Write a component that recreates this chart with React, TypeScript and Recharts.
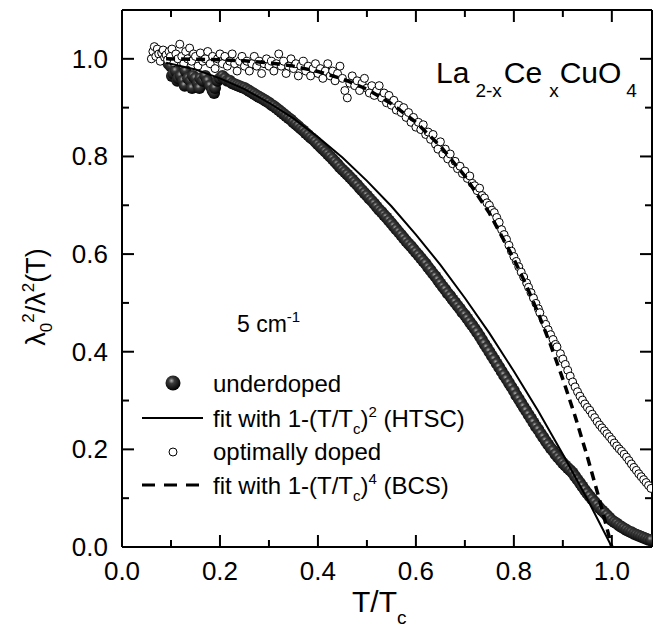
import { ComposedChart, Scatter, XAxis, YAxis, Customized } from "recharts";

const FONT = "'Liberation Sans', Arial, sans-serif";

const xTicks = [0, 0.1, 0.2, 0.3, 0.4, 0.5, 0.6, 0.7, 0.8, 0.9, 1.0];
const yTicks = [0, 0.1, 0.2, 0.3, 0.4, 0.5, 0.6, 0.7, 0.8, 0.9, 1.0];

// underdoped, filled spheres  [T/Tc, lambda0^2/lambda^2]
const underdoped: [number, number][] = [
  [0.09, 1.0], [0.095, 0.99], [0.1, 0.985], [0.102, 0.965], [0.105, 0.97], [0.11, 0.975],
  [0.113, 0.955], [0.115, 0.96], [0.12, 0.965], [0.125, 0.955], [0.128, 0.945], [0.13, 0.975],
  [0.135, 0.96], [0.14, 0.955], [0.143, 0.94], [0.145, 0.965], [0.15, 0.96], [0.155, 0.95],
  [0.158, 0.94], [0.16, 0.96], [0.165, 0.955], [0.17, 0.965], [0.175, 0.955], [0.18, 0.945],
  [0.185, 0.935], [0.188, 0.93], [0.19, 0.94], [0.195, 0.955], [0.2, 0.96], [0.205, 0.965],
  [0.21, 0.96], [0.215, 0.955], [0.22, 0.955], [0.225, 0.95],
  [0.23, 0.948], [0.235, 0.946], [0.24, 0.944], [0.245, 0.942], [0.25, 0.94], [0.255, 0.937],
  [0.26, 0.934], [0.265, 0.931], [0.27, 0.928], [0.275, 0.925], [0.28, 0.922], [0.285, 0.919],
  [0.29, 0.916], [0.295, 0.913], [0.3, 0.91], [0.305, 0.906], [0.31, 0.903], [0.315, 0.899],
  [0.32, 0.895], [0.325, 0.891], [0.33, 0.887], [0.335, 0.883], [0.34, 0.879], [0.345, 0.875],
  [0.35, 0.87], [0.355, 0.866], [0.36, 0.862], [0.365, 0.857], [0.37, 0.853], [0.375, 0.848],
  [0.38, 0.844], [0.385, 0.839], [0.39, 0.835], [0.395, 0.83], [0.4, 0.825], [0.405, 0.82],
  [0.41, 0.815], [0.415, 0.81], [0.42, 0.805], [0.425, 0.8], [0.43, 0.795], [0.435, 0.789],
  [0.44, 0.784], [0.445, 0.778], [0.45, 0.773], [0.455, 0.768], [0.46, 0.763], [0.465, 0.758],
  [0.47, 0.753], [0.475, 0.747], [0.48, 0.742], [0.485, 0.736], [0.49, 0.731], [0.495, 0.725],
  [0.5, 0.72], [0.505, 0.714], [0.51, 0.709], [0.515, 0.703], [0.52, 0.697], [0.525, 0.691],
  [0.53, 0.686], [0.535, 0.68], [0.54, 0.675], [0.545, 0.669], [0.55, 0.663], [0.555, 0.657],
  [0.56, 0.651], [0.565, 0.645], [0.57, 0.639], [0.575, 0.633], [0.58, 0.627], [0.585, 0.621],
  [0.59, 0.616], [0.595, 0.61], [0.6, 0.604], [0.605, 0.598], [0.61, 0.592], [0.615, 0.586],
  [0.62, 0.58], [0.625, 0.573], [0.63, 0.567], [0.635, 0.56], [0.64, 0.554], [0.645, 0.547],
  [0.65, 0.54], [0.655, 0.533], [0.66, 0.527], [0.665, 0.52], [0.67, 0.514], [0.675, 0.507],
  [0.68, 0.501], [0.685, 0.494], [0.69, 0.488], [0.695, 0.481], [0.7, 0.475], [0.705, 0.468],
  [0.71, 0.461], [0.715, 0.454], [0.72, 0.447], [0.725, 0.44], [0.73, 0.432], [0.735, 0.424],
  [0.74, 0.416], [0.745, 0.408], [0.75, 0.4], [0.755, 0.392], [0.76, 0.384], [0.765, 0.376],
  [0.77, 0.368], [0.775, 0.36], [0.78, 0.352], [0.785, 0.344], [0.79, 0.336], [0.795, 0.328],
  [0.8, 0.32], [0.805, 0.311], [0.81, 0.303], [0.815, 0.295], [0.82, 0.287], [0.825, 0.279],
  [0.83, 0.271], [0.835, 0.263], [0.84, 0.255], [0.845, 0.247], [0.85, 0.24], [0.855, 0.232],
  [0.86, 0.225], [0.865, 0.217], [0.87, 0.21], [0.875, 0.203], [0.88, 0.197], [0.885, 0.19],
  [0.89, 0.184], [0.895, 0.178], [0.9, 0.172], [0.905, 0.167], [0.91, 0.162], [0.915, 0.157],
  [0.92, 0.152], [0.925, 0.145], [0.93, 0.138], [0.935, 0.131], [0.94, 0.124], [0.945, 0.117],
  [0.95, 0.11], [0.955, 0.104], [0.96, 0.098], [0.965, 0.092], [0.97, 0.086], [0.975, 0.08],
  [0.98, 0.075], [0.985, 0.07], [0.99, 0.065], [0.995, 0.06], [1.0, 0.055], [1.005, 0.051],
  [1.01, 0.048], [1.015, 0.044], [1.02, 0.041], [1.025, 0.038], [1.03, 0.035], [1.035, 0.032],
  [1.04, 0.03], [1.045, 0.027], [1.05, 0.025], [1.055, 0.023], [1.06, 0.021], [1.065, 0.019],
  [1.07, 0.017], [1.075, 0.015], [1.08, 0.014],
];

// optimally doped, open circles
const optimallyDoped: [number, number][] = [
  [0.06, 1.0], [0.063, 1.015], [0.066, 1.025], [0.069, 1.005], [0.072, 1.02], [0.075, 1.01],
  [0.078, 0.995], [0.081, 1.012], [0.084, 1.018], [0.087, 1.003], [0.09, 1.008], [0.093, 0.998],
  [0.096, 1.015], [0.099, 1.005], [0.102, 1.02], [0.106, 0.992], [0.11, 1.01], [0.114, 1.0],
  [0.118, 1.03], [0.122, 1.005], [0.126, 0.99], [0.13, 1.015], [0.134, 1.0], [0.138, 1.022],
  [0.142, 0.995], [0.146, 1.01], [0.15, 1.005], [0.155, 0.985], [0.16, 1.012], [0.165, 0.995],
  [0.17, 1.0], [0.175, 1.015], [0.18, 0.99], [0.185, 1.005], [0.19, 0.98], [0.195, 1.0],
  [0.2, 1.01], [0.205, 0.99], [0.21, 1.005], [0.215, 0.985], [0.22, 0.995], [0.225, 1.01],
  [0.23, 0.99], [0.235, 0.975], [0.24, 0.995], [0.245, 1.005], [0.25, 0.985], [0.255, 0.995],
  [0.26, 0.975], [0.265, 0.99], [0.27, 1.005], [0.275, 0.985], [0.28, 0.995], [0.285, 0.97],
  [0.29, 0.99], [0.295, 1.0], [0.3, 0.985], [0.305, 0.995], [0.31, 0.975], [0.315, 0.99],
  [0.32, 1.01], [0.325, 0.985], [0.33, 0.995], [0.335, 0.97], [0.34, 0.985], [0.345, 1.0],
  [0.35, 0.98], [0.355, 0.99], [0.36, 0.965], [0.365, 0.985], [0.37, 0.995], [0.375, 0.975],
  [0.38, 0.985], [0.385, 0.965], [0.39, 0.98], [0.395, 0.99], [0.4, 0.97], [0.405, 0.98],
  [0.41, 0.96], [0.415, 0.975], [0.42, 0.99], [0.425, 0.965], [0.43, 0.975], [0.435, 0.955],
  [0.44, 0.97], [0.445, 0.985], [0.45, 0.96], [0.455, 0.935], [0.46, 0.92], [0.465, 0.95],
  [0.47, 0.965], [0.475, 0.945], [0.48, 0.955], [0.485, 0.935], [0.49, 0.95], [0.495, 0.96],
  [0.5, 0.94], [0.505, 0.93], [0.51, 0.945], [0.515, 0.925], [0.52, 0.935], [0.525, 0.945],
  [0.53, 0.92], [0.535, 0.93], [0.54, 0.91], [0.545, 0.925], [0.55, 0.905], [0.555, 0.915],
  [0.56, 0.895], [0.565, 0.905], [0.57, 0.89], [0.575, 0.9], [0.58, 0.88], [0.585, 0.89],
  [0.59, 0.87], [0.595, 0.88], [0.6, 0.86], [0.605, 0.87], [0.61, 0.855], [0.615, 0.865],
  [0.62, 0.845], [0.625, 0.85], [0.63, 0.835], [0.635, 0.845], [0.64, 0.825], [0.645, 0.815],
  [0.65, 0.83], [0.655, 0.805], [0.66, 0.815], [0.665, 0.795], [0.67, 0.805], [0.675, 0.785],
  [0.68, 0.79], [0.685, 0.775], [0.69, 0.78], [0.695, 0.765], [0.7, 0.77], [0.705, 0.755],
  [0.71, 0.76], [0.715, 0.745], [0.72, 0.74], [0.725, 0.73], [0.73, 0.735], [0.735, 0.72],
  [0.74, 0.715], [0.745, 0.705], [0.75, 0.7], [0.755, 0.69], [0.76, 0.685], [0.765, 0.675],
  [0.77, 0.665], [0.775, 0.65], [0.78, 0.64], [0.785, 0.63], [0.79, 0.618], [0.795, 0.606],
  [0.8, 0.595], [0.805, 0.585], [0.81, 0.574], [0.815, 0.563], [0.82, 0.553], [0.826, 0.541],
  [0.83, 0.532], [0.835, 0.521], [0.84, 0.51], [0.845, 0.499], [0.85, 0.488], [0.853, 0.48],
  [0.86, 0.466], [0.865, 0.456], [0.87, 0.445], [0.875, 0.435], [0.88, 0.425], [0.885, 0.415],
  [0.888, 0.41], [0.895, 0.396], [0.9, 0.385], [0.905, 0.374], [0.91, 0.362], [0.915, 0.35],
  [0.92, 0.338], [0.925, 0.328], [0.93, 0.318], [0.935, 0.309], [0.94, 0.301], [0.945, 0.293],
  [0.95, 0.286], [0.955, 0.28], [0.96, 0.272], [0.965, 0.265], [0.97, 0.257], [0.975, 0.25],
  [0.98, 0.244], [0.985, 0.238], [0.99, 0.232], [0.995, 0.226], [1.0, 0.22], [1.005, 0.213],
  [1.01, 0.207], [1.015, 0.201], [1.02, 0.196], [1.025, 0.19], [1.03, 0.184], [1.035, 0.177],
  [1.04, 0.17], [1.045, 0.163], [1.05, 0.157], [1.055, 0.15], [1.06, 0.144], [1.065, 0.138],
  [1.07, 0.132], [1.075, 0.126], [1.08, 0.12],
];

// fit 1-(T/Tc)^2 (HTSC), solid
const fitHTSC: [number, number][] = [
  [0.09, 0.992], [0.15, 0.978], [0.2, 0.96], [0.25, 0.938], [0.3, 0.91], [0.35, 0.878],
  [0.4, 0.84], [0.45, 0.798], [0.5, 0.75], [0.55, 0.698], [0.6, 0.64], [0.65, 0.578],
  [0.7, 0.51], [0.75, 0.438], [0.8, 0.36], [0.85, 0.278], [0.875, 0.234], [0.9, 0.19],
  [0.925, 0.144], [0.95, 0.098], [0.975, 0.049], [1.0, 0.0],
];

// fit 1-(T/Tc)^4 (BCS), dashed
const fitBCS: [number, number][] = [
  [0.09, 1.0], [0.15, 0.999], [0.2, 0.998], [0.25, 0.996], [0.3, 0.992], [0.35, 0.985],
  [0.4, 0.974], [0.45, 0.959], [0.5, 0.938], [0.55, 0.908], [0.6, 0.87], [0.65, 0.821],
  [0.7, 0.76], [0.75, 0.684], [0.8, 0.59], [0.825, 0.537], [0.85, 0.478], [0.875, 0.414],
  [0.9, 0.344], [0.925, 0.268], [0.95, 0.185], [0.975, 0.096], [1.0, 0.0],
];

const toRows = (pts: [number, number][]) => pts.map(([t, v]) => ({ t, v }));

const isMajor = (v: number) => Math.round(v * 10) % 2 === 0;

function BottomTick({ x, y, payload }: any) {
  const v = payload.value;
  const major = isMajor(v);
  return (
    <g>
      <line x1={x} x2={x} y1={y} y2={y - (major ? 12 : 7)} stroke="#000" strokeWidth={2} />
      {major && (
        <text x={x} y={y + 33} textAnchor="middle" fontSize={26} fontFamily={FONT} fill="#000">
          {v.toFixed(1)}
        </text>
      )}
    </g>
  );
}

function TopTick({ x, y, payload }: any) {
  const major = isMajor(payload.value);
  return <line x1={x} x2={x} y1={y} y2={y + (major ? 12 : 7)} stroke="#000" strokeWidth={2} />;
}

function LeftTick({ x, y, payload }: any) {
  const v = payload.value;
  const major = isMajor(v);
  return (
    <g>
      <line x1={x} x2={x + (major ? 12 : 7)} y1={y} y2={y} stroke="#000" strokeWidth={2} />
      {major && (
        <text x={x - 14} y={y + 9} textAnchor="end" fontSize={26} fontFamily={FONT} fill="#000">
          {v.toFixed(1)}
        </text>
      )}
    </g>
  );
}

function RightTick({ x, y, payload }: any) {
  const major = isMajor(payload.value);
  return <line x1={x} x2={x - (major ? 12 : 7)} y1={y} y2={y} stroke="#000" strokeWidth={2} />;
}

function Annotations() {
  return (
    <g fontFamily={FONT} fill="#000">
      {/* compound label */}
      <text x={436} y={83} fontSize={30}>
        La
        <tspan fontSize={19} dx={6} dy={14}>2-x</tspan>
        <tspan dx={2} dy={-14}>Ce</tspan>
        <tspan fontSize={19} dx={7} dy={14}>x</tspan>
        <tspan dx={1} dy={-14}>CuO</tspan>
        <tspan fontSize={19} dx={5} dy={14}>4</tspan>
      </text>

      <text x={237} y={332} fontSize={23}>
        5 cm
        <tspan fontSize={15} dy={-10}>-1</tspan>
      </text>

      {/* legend */}
      <circle cx={173} cy={383} r={7.5} fill="url(#sphere)" />
      <text x={213} y={392} fontSize={24}>underdoped</text>

      <line x1={142} x2={203} y1={418} y2={418} stroke="#000" strokeWidth={2} />
      <text x={213} y={427} fontSize={24}>
        fit with 1-(T/T
        <tspan fontSize={15} dy={7}>c</tspan>
        <tspan dy={-7}>)</tspan>
        <tspan fontSize={15} dy={-10}>2</tspan>
        <tspan dy={10}> (HTSC)</tspan>
      </text>

      <circle cx={173} cy={452} r={4} fill="#fff" stroke="#000" strokeWidth={1} />
      <text x={213} y={460} fontSize={24}>optimally doped</text>

      <line x1={142} x2={203} y1={485} y2={485} stroke="#000" strokeWidth={3} strokeDasharray="13 9" />
      <text x={213} y={494} fontSize={24}>
        fit with 1-(T/T
        <tspan fontSize={15} dy={7}>c</tspan>
        <tspan dy={-7}>)</tspan>
        <tspan fontSize={15} dy={-10}>4</tspan>
        <tspan dy={10}> (BCS)</tspan>
      </text>

      {/* axis titles */}
      <text x={352} y={612} fontSize={30}>
        T/T
        <tspan fontSize={19} dy={12}>c</tspan>
      </text>
      <text transform="translate(45, 297) rotate(-90)" textAnchor="middle" fontSize={27}>
        λ
        <tspan fontSize={17} dy={7}>0</tspan>
        <tspan fontSize={17} dy={-18}>2</tspan>
        <tspan dy={11}>/λ</tspan>
        <tspan fontSize={17} dy={-11}>2</tspan>
        <tspan dy={11}>(T)</tspan>
      </text>
    </g>
  );
}

const sphereShape = (p: any) => <circle cx={p.cx} cy={p.cy} r={6} fill="url(#sphere)" />;
const openShape = (p: any) => (
  <circle cx={p.cx} cy={p.cy} r={4} fill="#fff" stroke="#000" strokeWidth={1} />
);
const noShape = () => <g />;

export default function App() {
  return (
    <div style={{ position: "absolute", left: 0, top: 0, background: "#fff" }}>
      <ComposedChart
        width={658}
        height={631}
        margin={{ top: 0, right: 0, bottom: 4, left: 2 }}
      >
        <defs>
          <radialGradient id="sphere" cx="40%" cy="35%" r="65%">
            <stop offset="0%" stopColor="#b0b0b0" />
            <stop offset="30%" stopColor="#3a3a3a" />
            <stop offset="100%" stopColor="#000" />
          </radialGradient>
        </defs>
        <XAxis
          dataKey="t"
          type="number"
          domain={[0, 1.082]}
          ticks={xTicks}
          allowDataOverflow
          interval={0}
          height={80}
          tickSize={0}
          tickMargin={0}
          tickLine={false}
          tick={BottomTick}
          axisLine={{ stroke: "#000", strokeWidth: 2 }}
        />
        <XAxis
          xAxisId="top"
          orientation="top"
          dataKey="t"
          type="number"
          domain={[0, 1.082]}
          ticks={xTicks}
          allowDataOverflow
          interval={0}
          height={10}
          tickSize={0}
          tickMargin={0}
          tickLine={false}
          tick={TopTick}
          axisLine={{ stroke: "#000", strokeWidth: 2 }}
        />
        <YAxis
          dataKey="v"
          type="number"
          domain={[0, 1.1]}
          ticks={yTicks}
          allowDataOverflow
          interval={0}
          width={120}
          tickSize={0}
          tickMargin={0}
          tickLine={false}
          tick={LeftTick}
          axisLine={{ stroke: "#000", strokeWidth: 2 }}
        />
        <YAxis
          yAxisId="right"
          orientation="right"
          dataKey="v"
          type="number"
          domain={[0, 1.1]}
          ticks={yTicks}
          allowDataOverflow
          interval={0}
          width={6}
          tickSize={0}
          tickMargin={0}
          tickLine={false}
          tick={RightTick}
          axisLine={{ stroke: "#000", strokeWidth: 2 }}
        />
        <Scatter
          data={toRows(underdoped)}
          dataKey="v"
          shape={sphereShape}
          isAnimationActive={false}
        />
        <Scatter
          data={toRows(optimallyDoped)}
          dataKey="v"
          shape={openShape}
          isAnimationActive={false}
        />
        <Scatter
          data={toRows(fitHTSC)}
          dataKey="v"
          shape={noShape}
          line={{ stroke: "#000", strokeWidth: 2 }}
          isAnimationActive={false}
        />
        <Scatter
          data={toRows(fitBCS)}
          dataKey="v"
          shape={noShape}
          line={{ stroke: "#000", strokeWidth: 3.5, strokeDasharray: "9 6" }}
          isAnimationActive={false}
        />
        <Customized component={Annotations} />
      </ComposedChart>
    </div>
  );
}
